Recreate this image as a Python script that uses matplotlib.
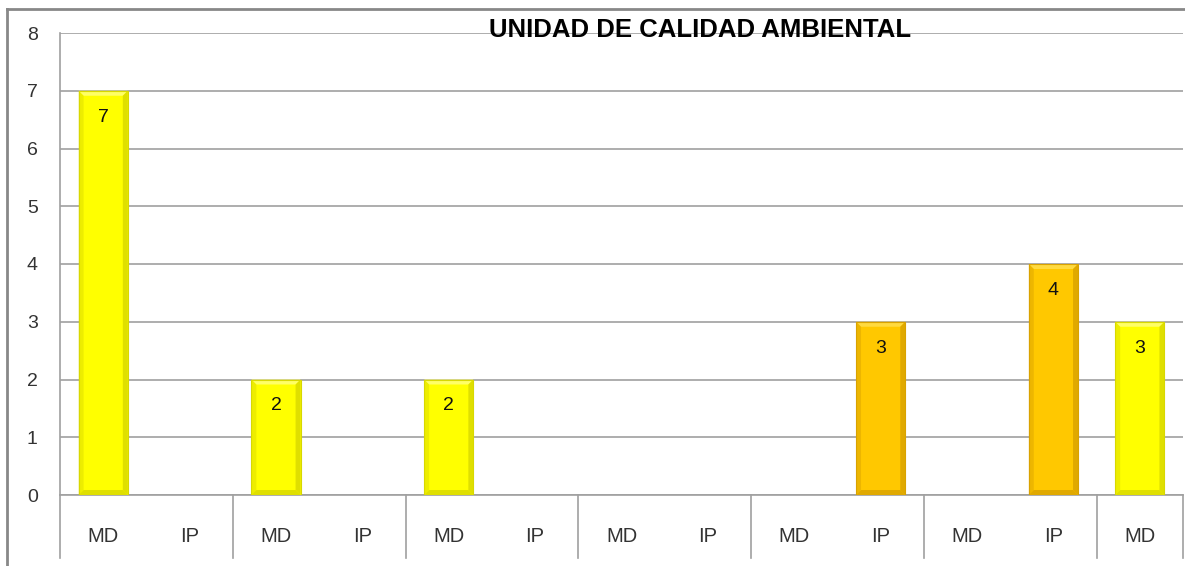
import matplotlib
matplotlib.use('Agg')
import matplotlib.pyplot as plt
from matplotlib.lines import Line2D
from matplotlib.patches import Polygon
import matplotlib.transforms as mtransforms

plt.rcParams['font.family'] = ['Liberation Sans', 'DejaVu Sans']

# Datos del grafico
titulo = 'UNIDAD DE CALIDAD AMBIENTAL'
categorias = ['MD', 'IP', 'MD', 'IP', 'MD', 'IP', 'MD', 'IP', 'MD', 'IP', 'MD', 'IP', 'MD']
valores = [7, 0, 2, 0, 2, 0, 0, 0, 0, 3, 0, 4, 3]
y_ticks = [0, 1, 2, 3, 4, 5, 6, 7, 8]

# colores: relleno, luz (bisel superior), sombra (bisel lateral/inferior)
estilo = {
    'MD': ('#FFFF00', '#FFFF66', '#D8D800'),
    'IP': ('#FFC800', '#FFDA40', '#D9A200'),
}
gris = '#A0A0A0'

fig = plt.figure(figsize=(11.85, 5.66), dpi=100)
ax = fig.add_axes([60 / 1185, 71 / 566, 1123 / 1185, 462 / 566])

ax.set_xlim(-0.5, len(categorias) - 0.5)
ax.set_ylim(0, 8)

x = list(range(len(categorias)))
colores = [estilo[c][0] for c in categorias]
bars = ax.bar(x, valores, width=0.57, color=colores, linewidth=0, zorder=3)

# bisel de las barras (unos 5 px)
bx = 5 * (len(categorias)) / 1123
by = 5 * 8 / 462
for b, c, v in zip(bars, categorias, valores):
    if v <= 0:
        continue
    x0, x1 = b.get_x(), b.get_x() + b.get_width()
    h = b.get_height()
    _, luz, sombra = estilo[c]
    ax.add_patch(Polygon([[x0, h], [x1, h], [x1 - bx, h - by], [x0 + bx, h - by]],
                         closed=True, color=luz, lw=0, zorder=3.1))
    ax.add_patch(Polygon([[x0, 0], [x0 + bx, by], [x0 + bx, h - by], [x0, h]],
                         closed=True, color=sombra, lw=0, alpha=0.45, zorder=3.1))
    ax.add_patch(Polygon([[x1, 0], [x1 - bx, by], [x1 - bx, h - by], [x1, h]],
                         closed=True, color=sombra, lw=0, alpha=0.8, zorder=3.1))
    ax.add_patch(Polygon([[x0, 0], [x1, 0], [x1 - bx, by], [x0 + bx, by]],
                         closed=True, color=sombra, lw=0, alpha=0.8, zorder=3.1))
    ax.add_patch(Polygon([[x0, 0], [x1, 0], [x1, h], [x0, h]], closed=True,
                         fill=False, edgecolor=sombra, lw=0.8, zorder=3.2))
    # etiqueta de valor dentro de la barra
    ax.annotate(str(v), ((x0 + x1) / 2, h), xytext=(0, -19),
                textcoords='offset points', ha='center', va='center',
                fontsize=14, color='#111111', zorder=4)

ax.set_yticks(y_ticks)
ax.set_xticks(x)
ax.set_xticklabels(categorias)
ax.tick_params(axis='y', length=0, pad=16, labelsize=14, labelcolor='#333333')
ax.tick_params(axis='x', length=0, pad=23, labelsize=14.5, labelcolor='#333333')

ax.yaxis.grid(True, color=gris, linewidth=1.2, zorder=0)
ax.set_axisbelow(True)
for s in ['top', 'right']:
    ax.spines[s].set_visible(False)
ax.spines['left'].set_color(gris)
ax.spines['bottom'].set_color(gris)
ax.spines['left'].set_linewidth(1.2)
ax.spines['bottom'].set_linewidth(1.2)

# divisiones del eje de categorias
trans = mtransforms.blended_transform_factory(ax.transData, ax.transAxes)
for d in [-0.5, 1.5, 3.5, 5.5, 7.5, 9.5, 11.5, 12.5]:
    ax.add_line(Line2D([d, d], [0, -0.136], transform=trans, color=gris,
                       linewidth=1.2, clip_on=False))

# marco del area del grafico
fig.add_artist(Line2D([7 / 1185, 1], [1 - 9 / 566, 1 - 9 / 566],
                      transform=fig.transFigure, color='#888888', linewidth=2))
fig.add_artist(Line2D([7 / 1185, 7 / 1185], [0, 1 - 9 / 566],
                      transform=fig.transFigure, color='#888888', linewidth=2))

fig.text(700 / 1185, 1 - 37 / 566, titulo, ha='center', va='baseline',
         fontsize=18.5, fontweight='bold')

fig.savefig('out.png', dpi=100)
